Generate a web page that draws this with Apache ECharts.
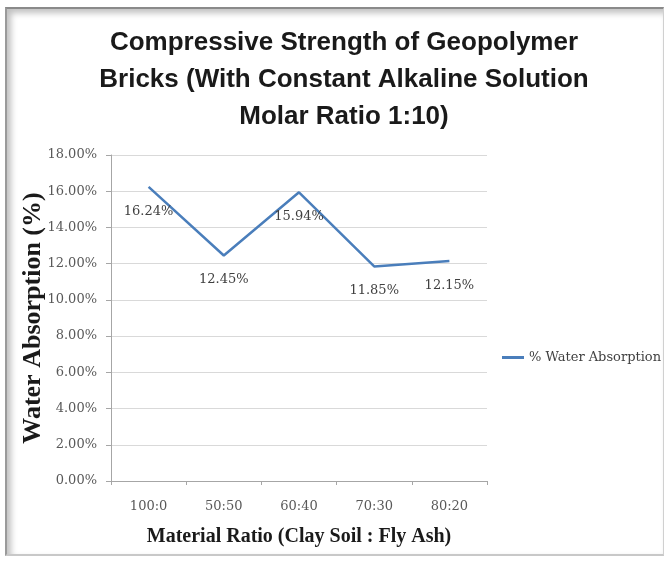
<!DOCTYPE html>
<html>
<head>
<meta charset="utf-8">
<script src="https://cdn.jsdelivr.net/npm/echarts@6/dist/echarts.min.js"></script>
<style>
  html, body { margin: 0; padding: 0; background: #fff; }
  #wrap { position: relative; width: 668px; height: 563px; background: #fff; }
  #frame {
    position: absolute; left: 5px; top: 7px; width: 659px; height: 549px;
    box-sizing: border-box;
    border-left: 2px solid #9a9a9a; border-top: 2px solid #8a8a8a;
    border-right: 1px solid #d0d0d0; border-bottom: 2px solid #c8c8c8;
    box-shadow: inset 4px 4px 6px rgba(0,0,0,0.25);
  }
  #chart { position: absolute; left: 0; top: 0; width: 668px; height: 563px; }
</style>
</head>
<body>
<div id="wrap">
  <div id="frame"></div>
  <div id="chart"></div>
</div>
<script>
// chart data
const categories = ['100:0', '50:50', '60:40', '70:30', '80:20'];
const waterAbsorption = [16.24, 12.45, 15.94, 11.85, 12.15];
const seriesName = '% Water Absorption';

const serif = '"DejaVu Serif", "Liberation Serif", serif';
const boldSerif = '"Liberation Serif", "DejaVu Serif", serif';
const sans = '"Liberation Sans", "DejaVu Sans", sans-serif';

let myChart = echarts.init(document.getElementById('chart'));
const option = {
  animation: false,
  title: {
    text: 'Compressive Strength of Geopolymer\nBricks (With Constant Alkaline Solution\nMolar Ratio 1:10)',
    left: 339,
    top: 19,
    textAlign: 'center',
    textStyle: {
      fontFamily: sans,
      fontWeight: 'bold',
      fontSize: 26,
      lineHeight: 37,
      color: '#1a1a1a'
    }
  },
  legend: {
    data: [{ name: seriesName, icon: 'rect' }],
    left: 497,
    top: 346,
    itemWidth: 22,
    itemHeight: 3,
    textStyle: { fontFamily: serif, fontSize: 13, color: '#404040' }
  },
  grid: { left: 111, right: 181, top: 155, bottom: 82 },
  xAxis: {
    type: 'category',
    data: categories,
    boundaryGap: true,
    name: 'Material Ratio (Clay Soil : Fly Ash)',
    nameLocation: 'middle',
    nameGap: 46,
    nameTextStyle: { fontFamily: boldSerif, fontWeight: 'bold', fontSize: 20, color: '#1a1a1a' },
    axisLine: { lineStyle: { color: '#a6a6a6' } },
    axisTick: { show: true, length: 4, lineStyle: { color: '#a6a6a6' } },
    axisLabel: { fontFamily: serif, fontSize: 13, color: '#595959', margin: 19 }
  },
  yAxis: {
    type: 'value',
    min: 0,
    max: 18,
    interval: 2,
    name: 'Water Absorption (%)',
    nameLocation: 'middle',
    nameGap: 65,
    nameMoveOverlap: false,
    nameTextStyle: { fontFamily: boldSerif, fontWeight: 'bold', fontSize: 26, color: '#1a1a1a' },
    axisLine: { show: true, lineStyle: { color: '#a6a6a6' } },
    axisTick: { show: true, length: 5, lineStyle: { color: '#a6a6a6' } },
    splitLine: { lineStyle: { color: '#d9d9d9' } },
    axisLabel: {
      fontFamily: serif, fontSize: 13, color: '#595959', margin: 14,
      formatter: function (v) { return v.toFixed(2) + '%'; }
    }
  },
  series: [
    {
      name: seriesName,
      type: 'line',
      data: waterAbsorption,
      symbol: 'circle',
      symbolSize: 0.1,
      showSymbol: true,
      lineStyle: { color: '#4a7ebb', width: 2.5 },
      itemStyle: { color: '#4a7ebb' },
      label: {
        show: true,
        position: 'bottom',
        distance: 18,
        fontFamily: serif,
        fontSize: 13,
        color: '#404040',
        formatter: function (p) { return p.value.toFixed(2) + '%'; }
      }
    }
  ]
};
myChart.setOption(option);
</script>
</body>
</html>
